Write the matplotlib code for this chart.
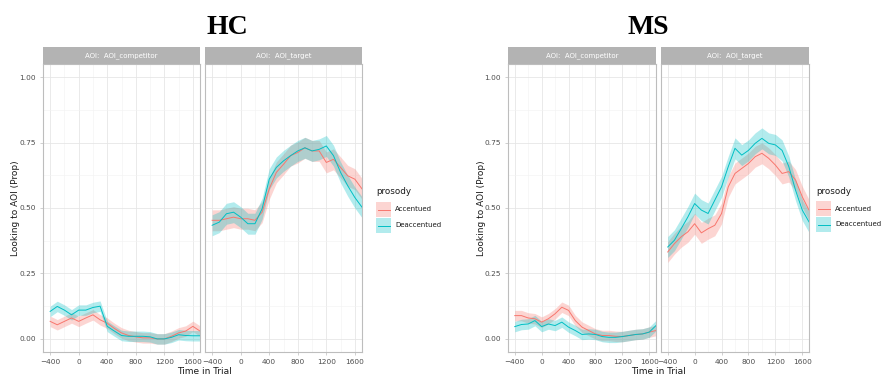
import numpy as np
import matplotlib
matplotlib.use("Agg")
import matplotlib.pyplot as plt

# time in trial (ms)
time = [-400, -300, -200, -100, 0, 100, 200, 300, 400, 500, 600, 700,
        800, 900, 1000, 1100, 1200, 1300, 1400, 1500, 1600, 1700]

# HC group
hc_comp_acc = [0.067, 0.054, 0.067, 0.080, 0.067, 0.080, 0.092, 0.073, 0.060, 0.040, 0.023,
               0.013, 0.008, 0.004, 0.004, 0.000, 0.000, 0.010, 0.023, 0.030, 0.048, 0.030]
hc_comp_deacc = [0.105, 0.124, 0.110, 0.092, 0.110, 0.110, 0.120, 0.125, 0.048, 0.030, 0.013,
                 0.010, 0.010, 0.010, 0.008, 0.000, 0.000, 0.006, 0.016, 0.013, 0.012, 0.012]
hc_targ_acc = [0.453, 0.453, 0.459, 0.465, 0.459, 0.459, 0.453, 0.484, 0.573, 0.636, 0.667,
               0.700, 0.712, 0.730, 0.718, 0.718, 0.674, 0.686, 0.655, 0.623, 0.610, 0.573]
hc_targ_deacc = [0.434, 0.446, 0.478, 0.484, 0.465, 0.440, 0.440, 0.497, 0.610, 0.655, 0.680,
                 0.700, 0.718, 0.730, 0.718, 0.724, 0.737, 0.700, 0.636, 0.585, 0.540, 0.503]

# MS group
ms_comp_acc = [0.089, 0.089, 0.080, 0.077, 0.064, 0.077, 0.096, 0.121, 0.109, 0.070, 0.045,
               0.032, 0.019, 0.013, 0.013, 0.010, 0.009, 0.013, 0.017, 0.019, 0.026, 0.032]
ms_comp_deacc = [0.047, 0.055, 0.057, 0.070, 0.047, 0.057, 0.051, 0.064, 0.045, 0.032, 0.017,
                 0.019, 0.017, 0.009, 0.006, 0.006, 0.009, 0.013, 0.017, 0.019, 0.026, 0.051]
ms_targ_acc = [0.332, 0.364, 0.390, 0.409, 0.440, 0.405, 0.421, 0.434, 0.479, 0.581, 0.632,
               0.651, 0.670, 0.696, 0.709, 0.690, 0.664, 0.632, 0.639, 0.607, 0.543, 0.492]
ms_targ_deacc = [0.351, 0.377, 0.421, 0.466, 0.517, 0.492, 0.479, 0.530, 0.581, 0.658, 0.728,
                 0.702, 0.720, 0.747, 0.766, 0.747, 0.741, 0.720, 0.658, 0.568, 0.492, 0.447]

# ribbon half widths (standard error)
se_comp = 0.02
se_targ = 0.04

groups = ["HC", "MS"]
prosody = ["Accentued", "Deaccentued"]
colors = ["#F8766D", "#00BFC4"]

W, H = 882, 378
fig = plt.figure(figsize=(W / 100, H / 100), dpi=100)


def px_axes(x0, x1, y0, y1):
    return fig.add_axes([x0 / W, 1 - y1 / H, (x1 - x0) / W, (y1 - y0) / H])


def panel(ax, series, se, show_y):
    ax.set_xlim(-500, 1700)
    ax.set_ylim(-0.05, 1.05)
    ax.set_xticks([-400, 0, 400, 800, 1200, 1600])
    ax.set_xticks([-200, 200, 600, 1000, 1400], minor=True)
    ax.set_yticks([0, 0.25, 0.5, 0.75, 1.0])
    ax.set_yticks([0.125, 0.375, 0.625, 0.875], minor=True)
    ax.grid(which="major", color="#e6e6e6", lw=0.6)
    ax.grid(which="minor", color="#f2f2f2", lw=0.4)
    ax.set_axisbelow(True)
    for s in ax.spines.values():
        s.set_color("#bdbdbd")
        s.set_linewidth(0.8)
    ax.tick_params(which="major", length=2, width=0.5, color="#bdbdbd",
                   labelsize=5.3, labelcolor="#4d4d4d", pad=3)
    ax.tick_params(which="minor", length=0)
    if show_y:
        ax.set_yticklabels(["0.00", "0.25", "0.50", "0.75", "1.00"])
    else:
        ax.set_yticklabels([])
        ax.tick_params(axis="y", which="major", length=0)
    for vals, col in zip(series, colors):
        v = np.array(vals)
        ax.fill_between(time, v - se, v + se, color=col, alpha=0.3, lw=0)
        ax.plot(time, v, color=col, lw=0.7)


def strip(x0, x1, text):
    sa = px_axes(x0, x1, 47, 64)
    sa.set_facecolor("#b3b3b3")
    sa.set_xticks([])
    sa.set_yticks([])
    for s in sa.spines.values():
        s.set_visible(False)
    sa.text(0.5, 0.5, text, color="white", fontsize=5, ha="center", va="center",
            transform=sa.transAxes)


def legend(x, y):
    fig.text(x / W, 1 - y / H, "prosody", fontsize=6.3, color="#1a1a1a", va="center")
    for i, (lab, col) in enumerate(zip(prosody, colors)):
        ky = y + 10 + i * 16
        ka = px_axes(x, x + 15, ky, ky + 15)
        ka.set_xlim(0, 1)
        ka.set_ylim(0, 1)
        ka.fill_between([0, 1], 0, 1, color=col, alpha=0.3, lw=0)
        ka.plot([0.1, 0.9], [0.5, 0.5], color=col, lw=0.7)
        ka.axis("off")
        fig.text((x + 19) / W, 1 - (ky + 7.5) / H, lab, fontsize=5, color="#1a1a1a", va="center")


layout = {
    "HC": dict(p1=(43, 200), p2=(205, 362), title_x=227, leg=(376, 192), ylab=16, xlab=204,
               data=[(hc_comp_acc, hc_comp_deacc), (hc_targ_acc, hc_targ_deacc)]),
    "MS": dict(p1=(508, 656), p2=(661, 809), title_x=648, leg=(816, 191), ylab=481, xlab=658,
               data=[(ms_comp_acc, ms_comp_deacc), (ms_targ_acc, ms_targ_deacc)]),
}

for g in groups:
    L = layout[g]
    a1 = px_axes(L["p1"][0], L["p1"][1], 64, 352)
    panel(a1, L["data"][0], se_comp, True)
    a2 = px_axes(L["p2"][0], L["p2"][1], 64, 352)
    panel(a2, L["data"][1], se_targ, False)
    strip(L["p1"][0], L["p1"][1], "AOI:  AOI_competitor")
    strip(L["p2"][0], L["p2"][1], "AOI:  AOI_target")
    fig.text(L["title_x"] / W, 1 - 27 / H, g, fontsize=20, fontweight="bold",
             family="Liberation Serif", ha="center", va="center")
    fig.text(L["ylab"] / W, 1 - 208 / H, "Looking to AOI (Prop)", fontsize=6.5,
             rotation=90, ha="center", va="center", color="#1a1a1a")
    fig.text(L["xlab"] / W, 1 - 372 / H, "Time in Trial", fontsize=6.5,
             ha="center", va="center", color="#1a1a1a")
    legend(*L["leg"])

fig.savefig("out.png", dpi=100)
